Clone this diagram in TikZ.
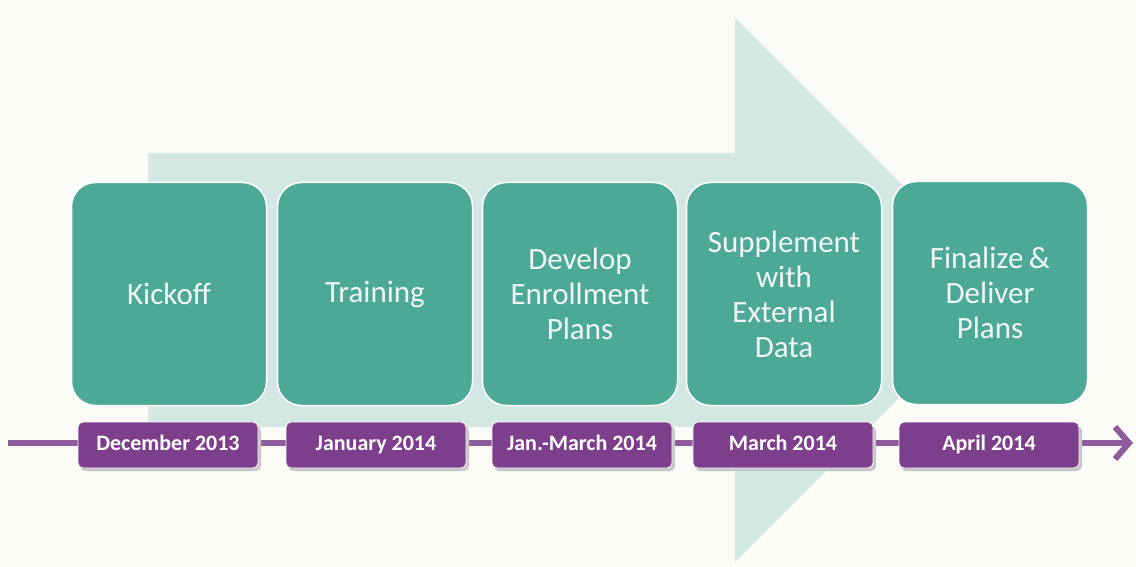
\documentclass[tikz,border=0pt]{standalone}
\usepackage{fontspec}
\setmainfont{Carlito}
\usetikzlibrary{arrows.meta}
\definecolor{paper}{HTML}{FBFBF8}
\definecolor{bigarrow}{HTML}{D3E8E2}
\definecolor{tealbox}{HTML}{4CA897}
\definecolor{purplebox}{HTML}{7D3F8C}
\definecolor{purpleline}{HTML}{8E5B9C}
\definecolor{boxtext}{HTML}{F2F7F5}
\tikzset{
  stage/.style={draw=white, line width=1.5pt, fill=tealbox, rounded corners=24pt,
    minimum width=195pt, minimum height=223pt, inner sep=0pt, align=center,
    text=boxtext, font=\fontsize{31}{35}\selectfont, text width=185pt},
  datebox/.style={draw=white, line width=0.8pt, fill=purplebox, rounded corners=5pt,
    minimum width=180pt, minimum height=46pt, inner sep=0pt,
    text=white, font=\bfseries\fontsize{22}{26}\selectfont,
    text height=14pt, text depth=4pt},
  dateshadow/.style={fill=black!22, rounded corners=5pt},
  timeline/.style={draw=purpleline, line width=6pt, -{Straight Barb[length=14pt,width=32pt,line width=6pt]}}
}
\begin{document}
\begin{tikzpicture}[x=1pt,y=-1pt]
\useasboundingbox (0,0) rectangle (1136,567);
\fill[paper] (0,0) rectangle (1136,567);
% big background arrow
\fill[bigarrow] (148,153) -- (735,153) -- (735,18) -- (1007,290) -- (735,562) -- (735,427) -- (148,427) -- cycle;
% timeline
\coordinate (tstart) at (8,443);
\coordinate (tend) at (1133,443);
\draw[timeline] (tstart) -- (tend);
% stages
\node[stage] (s1) at (169,294) {Kickoff};
\node[stage] (s2) at (375,294) {Training};
\node[stage] (s3) at (580,294) {Develop\\Enrollment\\Plans};
\node[stage] (s4) at (784,294) {Supplement\\with\\External\\Data};
\node[stage] (s5) at (990,293) {Finalize\hspace{0.18em}\&\\Deliver\\Plans};
% date shadows
\fill[dateshadow] (80,426) rectangle (261,471);
\fill[dateshadow] (288,426) rectangle (469,471);
\fill[dateshadow] (494,426) rectangle (675,471);
\fill[dateshadow] (695,426) rectangle (876,471);
\fill[dateshadow] (901,426) rectangle (1082,471);
% dates
\node[datebox] (d1) at (168,445) {December 2013};
\node[datebox] (d2) at (376,445) {January 2014};
\node[datebox] (d3) at (582,445) {Jan.-March 2014};
\node[datebox] (d4) at (783,445) {March 2014};
\node[datebox] (d5) at (989,445) {April 2014};
\end{tikzpicture}
\end{document}
